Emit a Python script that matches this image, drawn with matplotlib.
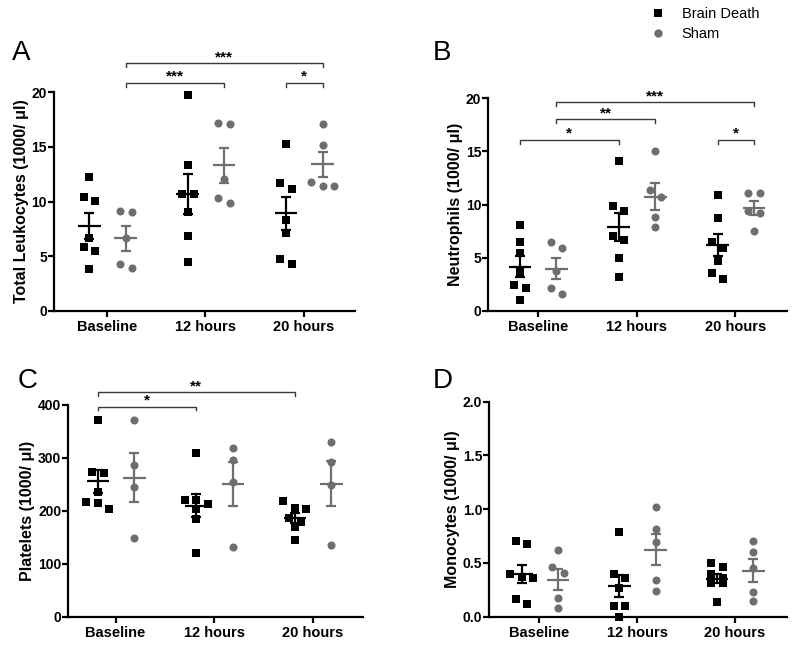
import numpy as np
import matplotlib
matplotlib.use("Agg")
import matplotlib.pyplot as plt
from matplotlib.lines import Line2D

plt.rcParams['font.family'] = ['Liberation Sans', 'DejaVu Sans']

# ---------------- data ----------------
categories = ['Baseline', '12 hours', '20 hours']
series_names = ['Brain Death', 'Sham']

leuko_bd = [[12.2, 10.4, 10.05, 6.7, 5.8, 5.5, 3.8],
            [19.75, 13.35, 10.65, 10.65, 9.0, 6.8, 4.5],
            [15.25, 11.65, 11.1, 8.3, 7.1, 4.3, 4.7]]
leuko_sham = [[9.0, 9.15, 6.7, 3.95, 4.3],
              [17.1, 17.15, 12.1, 9.9, 10.3],
              [17.1, 15.15, 11.8, 11.45, 11.45]]

neut_bd = [[8.07, 6.5, 5.45, 3.6, 2.4, 2.1, 1.0],
           [14.05, 9.9, 9.35, 6.66, 7.05, 5.0, 3.2],
           [10.85, 8.75, 6.5, 5.93, 4.7, 3.58, 2.98]]
neut_sham = [[5.87, 6.5, 3.7, 2.1, 1.55],
             [15.0, 11.35, 10.7, 8.8, 7.9],
             [11.05, 11.05, 9.4, 9.23, 7.54]]

plate_bd = [[371.7, 274, 272, 236, 217, 215.4, 203.5],
            [308.7, 221, 220, 212, 203, 184, 120],
            [218.6, 204.7, 203.5, 187, 179.5, 170, 145]]
plate_sham = [[371.7, 286.6, 244.4, 148],
              [318, 297, 255, 131],
              [329.4, 291.7, 248.8, 135.4]]

mono_bd = [[0.673, 0.704, 0.37, 0.40, 0.36, 0.118, 0.161],
           [0.79, 0.397, 0.357, 0.264, 0.099, 0.099, 0.0],
           [0.465, 0.50, 0.40, 0.36, 0.31, 0.31, 0.14]]
mono_sham = [[0.62, 0.459, 0.403, 0.17, 0.078],
             [1.023, 0.819, 0.695, 0.341, 0.239],
             [0.704, 0.598, 0.456, 0.226, 0.149]]

ylabels = ['Total Leukocytes (1000/ \u03bcl)', 'Neutrophils (1000/ \u03bcl)',
           'Platelets (1000/ \u03bcl)', 'Monocytes (1000/ \u03bcl)']
panel_letters = ['A', 'B', 'C', 'D']

# significance: (group_a, series_a, group_b, series_b, bracket_y, label)
sig_A = [(0, 1, 2, 1, 22.65, '***'), (0, 1, 1, 1, 20.88, '***'), (2, 0, 2, 1, 20.88, '*')]
sig_B = [(0, 1, 2, 1, 19.62, '***'), (0, 1, 1, 1, 18.02, '**'),
         (0, 0, 1, 0, 16.07, '*'), (2, 0, 2, 1, 16.07, '*')]
sig_C = [(0, 0, 2, 0, 424, '**'), (0, 0, 1, 0, 397, '*')]
sig_D = []

# ---------------- style ----------------
BLACK = '#000000'
GRAY = '#6e6e6e'
colors = [BLACK, GRAY]
markers = ['s', 'o']
offsets = [-0.18, 0.19]
W, H = 800, 645

fig = plt.figure(figsize=(8, 6.45), dpi=100)

def px_rect(left, top, right, bottom):
    return [left / W, 1 - bottom / H, (right - left) / W, (bottom - top) / H]

axes_rects = [px_rect(54, 92.3, 355, 310.7),
              px_rect(488.3, 98.3, 786.7, 310.7),
              px_rect(68.3, 405, 363, 616.7),
              px_rect(489.3, 401.7, 786.7, 616.7)]
ylims = [(0, 20), (0, 20), (0, 400), (0, 2.0)]
yticks = [np.arange(0, 21, 5), np.arange(0, 21, 5), np.arange(0, 401, 100), np.arange(0, 2.01, 0.5)]
xlims = [(-0.54, 2.52), (-0.5, 2.52), (-0.48, 2.51), (-0.51, 2.53)]
datasets = [(leuko_bd, leuko_sham), (neut_bd, neut_sham),
            (plate_bd, plate_sham), (mono_bd, mono_sham)]
sigs = [sig_A, sig_B, sig_C, sig_D]
letter_pos = [(12, 45), (433, 45), (18, 374), (433, 374)]


def swarm(values, ax, thresh_px=8.0, step_px=11.5):
    """Prism-like layout: points closer than thresh_px vertically share a row."""
    p0 = ax.transData.transform((0, 0))
    p1 = ax.transData.transform((1, 1))
    ppx, ppy = p1[0] - p0[0], p1[1] - p0[1]
    vals = np.asarray(values, float)
    order = np.argsort(-vals, kind='stable')
    offs = np.zeros(len(vals))
    clusters = []
    for i in order:
        if clusters and (vals[clusters[-1][0]] - vals[i]) * ppy < thresh_px:
            clusters[-1].append(i)
        else:
            clusters.append([i])
    for cl in clusters:
        n = len(cl)
        for k, i in enumerate(cl):
            offs[i] = (k - (n - 1) / 2) * step_px / ppx
    return offs


for ai in range(4):
    ax = fig.add_axes(axes_rects[ai])
    ax.set_xlim(*xlims[ai])
    ax.set_ylim(*ylims[ai])
    for s in ['top', 'right']:
        ax.spines[s].set_visible(False)
    for s in ['left', 'bottom']:
        ax.spines[s].set_linewidth(1.6)
    ax.set_xticks(range(len(categories)))
    ax.set_xticklabels(categories, fontsize=10.5, fontweight='bold')
    ax.set_yticks(yticks[ai])
    if ai == 3:
        ax.set_yticklabels(['%.1f' % v for v in yticks[ai]])
    for lab in ax.get_yticklabels():
        lab.set_fontweight('bold')
        lab.set_fontsize(10)
    ax.tick_params(axis='both', direction='out', width=1.6, length=4)
    ax.tick_params(axis='y', pad=1)
    ax.tick_params(axis='x', pad=3)
    ax.set_ylabel(ylabels[ai], fontsize=11.5, fontweight='bold', labelpad=2)

    for si in range(2):
        series = datasets[ai][si]
        for gi, vals in enumerate(series):
            xc = gi + offsets[si]
            offs = swarm(vals, ax)
            ax.plot(xc + offs, vals, linestyle='none', marker=markers[si],
                    markersize=5.8, color=colors[si], markeredgewidth=0,
                    clip_on=False, zorder=2)
            v = np.asarray(vals, float)
            m = v.mean()
            sem = v.std(ddof=1) / np.sqrt(len(v))
            ax.hlines(m, xc - 0.115, xc + 0.115, color=colors[si], lw=1.6, zorder=3)
            ax.errorbar([xc], [m], yerr=[sem], fmt='none', ecolor=colors[si],
                        elinewidth=1.6, capsize=3.8, capthick=1.6, zorder=3)

    yr = ylims[ai][1] - ylims[ai][0]
    tick = yr * 0.018
    for (ga, sa, gb, sb, yb, lab) in sigs[ai]:
        xa = ga + offsets[sa]
        xb = gb + offsets[sb]
        ax.plot([xa, xa, xb, xb], [yb - tick, yb, yb, yb - tick],
                color='#3a3a3a', lw=1.0, clip_on=False, zorder=4)
        ax.annotate(lab, xy=((xa + xb) / 2, yb), xytext=(0, 1.5),
                    textcoords='offset points', ha='center', va='baseline',
                    fontsize=11, fontweight='bold', annotation_clip=False)

    lx, ly = letter_pos[ai]
    fig.text(lx / W, 1 - (ly - 5.5) / H, panel_letters[ai], fontsize=20,
             va='top', ha='left')

handles = [Line2D([], [], linestyle='none', marker=markers[i], color=colors[i],
                  markersize=6, markeredgewidth=0) for i in range(2)]
fig.legend(handles, series_names, loc='upper left',
           bbox_to_anchor=(651 / W, 1 - 7 / H), frameon=False, fontsize=10.5,
           handlelength=1.0, handletextpad=1.1, labelspacing=0.4,
           borderpad=0, borderaxespad=0)

fig.savefig('out.png', dpi=100)
